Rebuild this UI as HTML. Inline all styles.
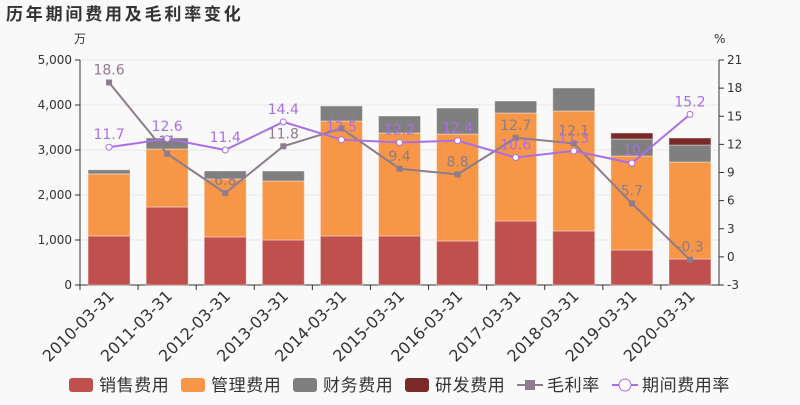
<!DOCTYPE html>
<html><head><meta charset="utf-8"><style>
body{margin:0;background:#f9f9f9;}
svg{font-family:"DejaVu Sans","Noto Sans CJK SC",sans-serif;}
</style></head><body>
<svg id="c" width="800" height="400">
<text x="6" y="20" font-size="17" letter-spacing="2.8" font-weight="bold" fill="#333">历年期间费用及毛利率变化</text>
<text x="74" y="43" font-size="12" fill="#333">万</text>
<text x="714" y="43" font-size="12" fill="#333">%</text>
</svg>
<script>
const categories=["2010-03-31","2011-03-31","2012-03-31","2013-03-31","2014-03-31","2015-03-31","2016-03-31","2017-03-31","2018-03-31","2019-03-31","2020-03-31"];
const sales=[1090,1733,1067,1000,1089,1089,978,1422,1200,778,578];
const mgmt=[1380,1290,1290,1311,2555,2289,2378,2400,2667,2089,2155];
const fin=[90,245,177,222,334,378,577,267,511,377,378];
const rnd=[0,0,0,0,0,0,0,0,0,134,156];
const gross=[18.6,11,6.8,11.8,13.7,9.4,8.8,12.7,12.1,5.7,-0.3];
const period=[11.7,12.6,11.4,14.4,12.5,12.2,12.4,10.6,11.3,10,15.2];
const leftTicks=[0,1000,2000,3000,4000,5000];
const rightTicks=[-3,0,3,6,9,12,15,18,21];
const NS="http://www.w3.org/2000/svg";
const svg=document.getElementById('c');
const L=80,R=719,T=60,B=285,bw=(R-L)/categories.length;
const yL=v=>B-(v/5000)*(B-T);
const yR=v=>B-((v+3)/24)*(B-T);
const xC=i=>L+bw*(i+0.5);
function mk(t,a,p){const e=document.createElementNS(NS,t);for(const k in a)e.setAttribute(k,a[k]);(p||svg).appendChild(e);return e;}
leftTicks.forEach(v=>{
 const g=mk('g',{});
 
 
 mk('line',{x1:L,x2:R,y1:yL(v),y2:yL(v),stroke:'#e6e6e6'},g);
 mk('line',{x1:L-5,x2:L,y1:yL(v),y2:yL(v),stroke:'#333'},g);
 const t=mk('text',{x:L-8,y:yL(v)+4,'text-anchor':'end','font-size':12,fill:'#333'},g);t.textContent=v.toLocaleString('en-US');
});
rightTicks.forEach(v=>{
 const g=mk('g',{});
 
 
 mk('line',{x1:R,x2:R+5,y1:yR(v),y2:yR(v),stroke:'#333'},g);
 const t=mk('text',{x:R+8,y:yR(v)+4,'font-size':12,fill:'#333'},g);t.textContent=v;
});
mk('line',{x1:L,x2:L,y1:T,y2:B,stroke:'#333'});
mk('line',{x1:R,x2:R,y1:T,y2:B,stroke:'#333'});
mk('line',{x1:L,x2:R,y1:B,y2:B,stroke:'#333'});
const series=[[sales,'#c0504d','bar-sales'],[mgmt,'#f79646','bar-mgmt'],[fin,'#7f7f7f','bar-fin'],[rnd,'#7b2a2a','bar-rnd']];
categories.forEach((c,i)=>{
 let base=0;
 series.forEach(([arr,col,nm])=>{
  const v=arr[i];if(v<=0)return;
  const r=mk('rect',{x:xC(i)-21,width:42,y:yL(base+v),height:yL(base)-yL(base+v),fill:col,stroke:'rgba(255,255,255,0.4)'});
  
  
  base+=v;
 });
 mk('line',{x1:L+bw*i,x2:L+bw*i,y1:B,y2:B+5,stroke:'#333'});
 const t=mk('text',{transform:`translate(${xC(i)+6},${B+12}) rotate(-45)`,'text-anchor':'end','font-size':16,fill:'#333'});
 t.textContent=c;
 
 
});
function line(arr,col,nm,circle){
 const p=mk('polyline',{points:arr.map((v,i)=>xC(i)+','+yR(v)).join(' '),fill:'none',stroke:col,'stroke-width':2});
 
 
 arr.forEach((v,i)=>{
  const m=circle?mk('circle',{cx:xC(i),cy:yR(v),r:3,fill:'#fff',stroke:col,'stroke-width':1}):mk('rect',{x:xC(i)-3,y:yR(v)-3,width:6,height:6,fill:col});
  
  
  const t=mk('text',{x:xC(i),y:yR(v)-8,'text-anchor':'middle','font-size':14,fill:col});
  t.textContent=v;
  
  
 });
}
line(gross,'#8c7c8c','gross-margin-line',false);
line(period,'#a86fe6','period-rate-line',true);
const leg=[['销售费用','#c0504d',69,'r'],['管理费用','#f79646',181,'r'],['财务费用','#7f7f7f',293,'r'],['研发费用','#7b2a2a',405,'r'],['毛利率','#8c7c8c',517,'l'],['期间费用率','#a86fe6',612,'c']];
leg.forEach(([n,col,x,k])=>{
 const g=mk('g',{});
 
 
 if(k==='r')mk('rect',{x:x,y:378,width:24,height:14,rx:3,fill:col},g);
 else{mk('line',{x1:x,x2:x+26,y1:385,y2:385,stroke:col,'stroke-width':2},g);
  if(k==='l')mk('rect',{x:x+8,y:380,width:10,height:10,fill:col},g);
  else mk('circle',{cx:x+13,cy:385,r:6,fill:'#fff',stroke:col},g);}
 const t=mk('text',{x:x+30,y:391,'font-size':17,'letter-spacing':0.6,fill:'#333'},g);t.textContent=n;
});
</script>
</body></html>
